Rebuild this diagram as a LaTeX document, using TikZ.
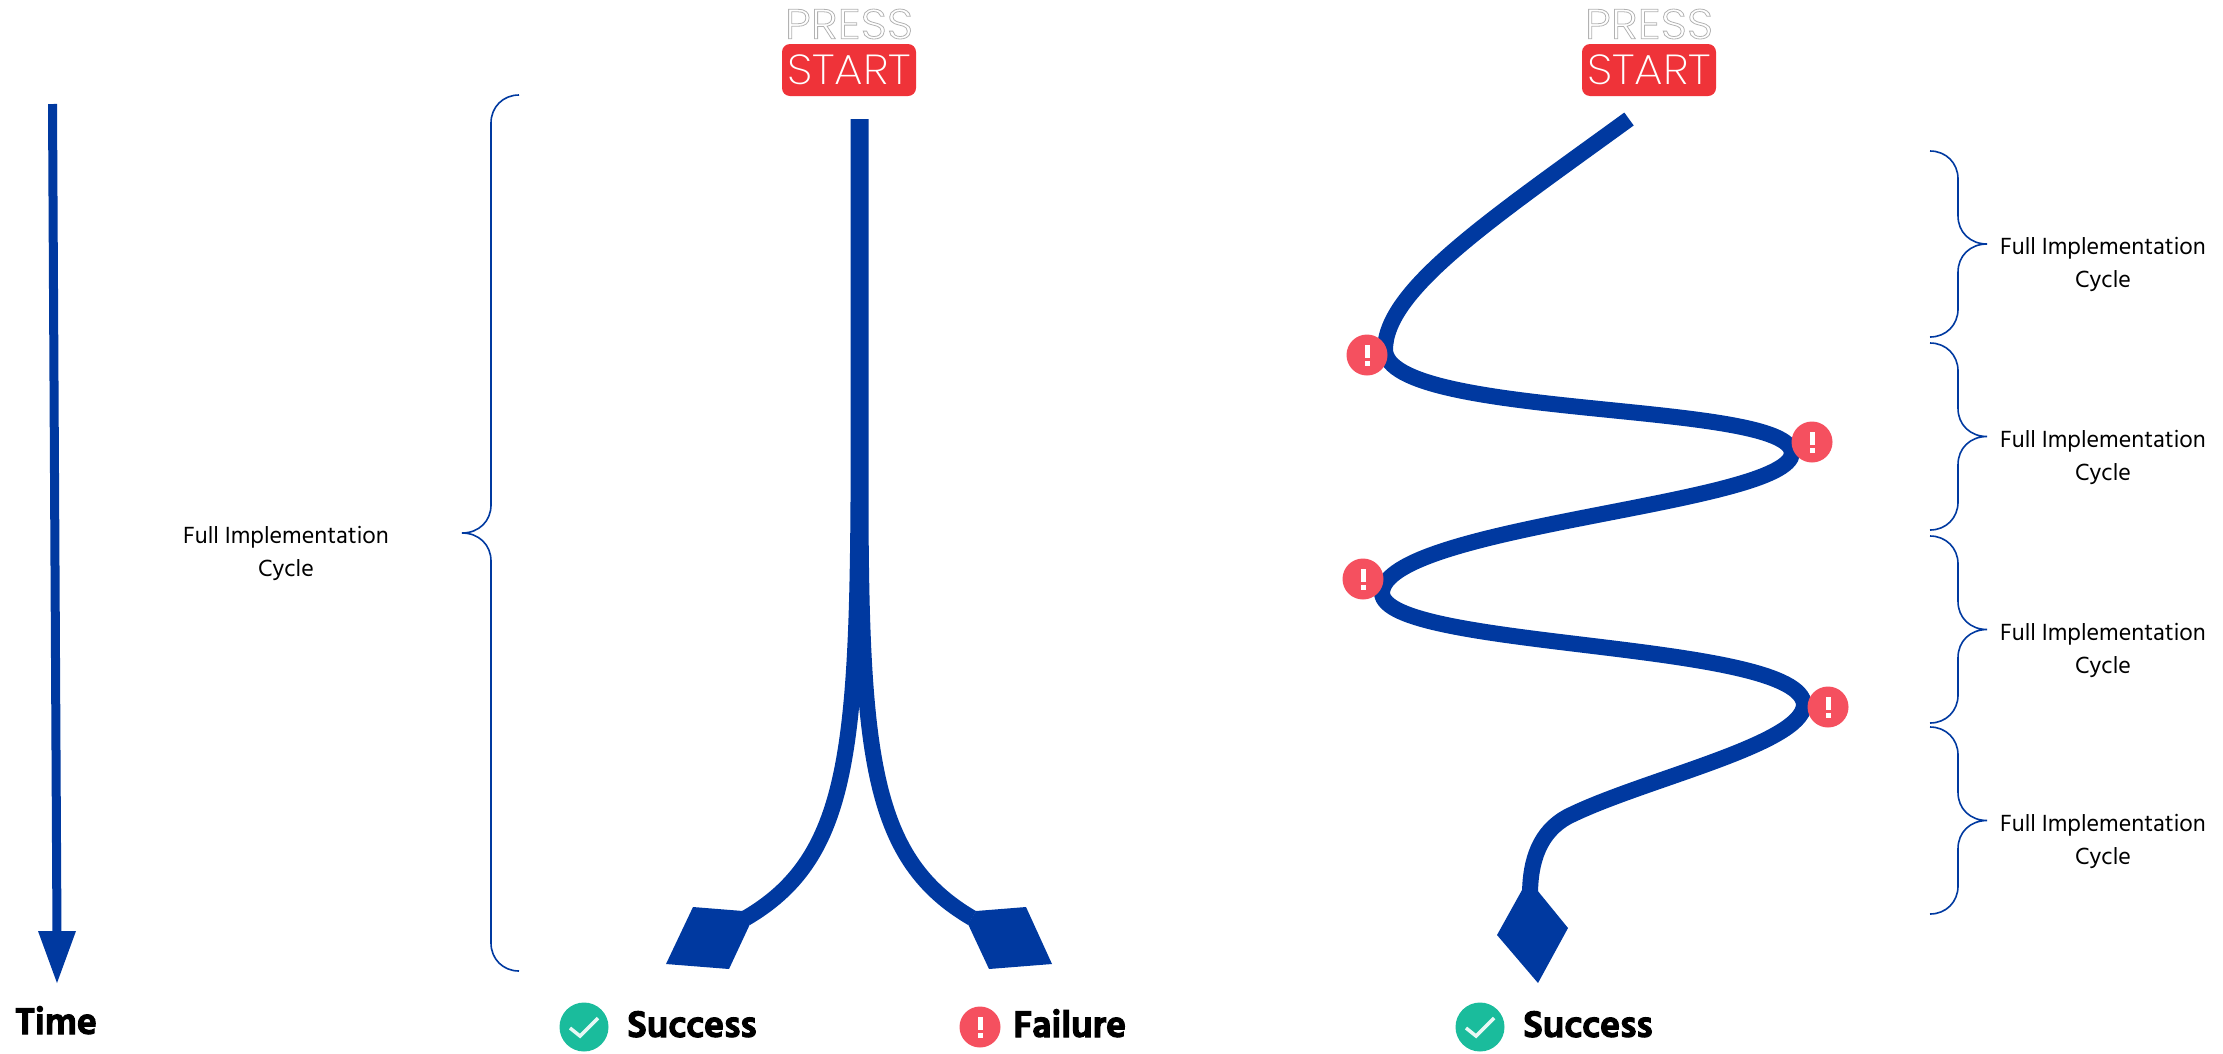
\documentclass[tikz,border=0pt]{standalone}
\usepackage{fontspec}
\usetikzlibrary{calc}
\setmainfont{Hind Madurai}
\newfontfamily\pressfont[FakeStretch=1.09]{Poppins Light}
\newfontfamily\startfont[FakeStretch=1.08]{Poppins ExtraLight}
\definecolor{flow}{HTML}{0039A0}
\definecolor{alert}{HTML}{F5505F}
\definecolor{okc}{HTML}{1ABC9C}
\definecolor{startred}{HTML}{EF3339}
\tikzset{
 flowline/.style={draw=flow,line width=16pt},
 headfill/.style={fill=flow,draw=none},
 bracepath/.style={draw=flow,line width=1.6pt},
 captxt/.style={font=\fontsize{24}{33}\selectfont,align=center,text=black},
 bigtxt/.style={font=\fontsize{38}{38}\bfseries\selectfont,text=black,anchor=base west,inner sep=0pt},
 badge/.style={circle,fill=alert,minimum size=41pt,inner sep=0pt},
 okbadge/.style={circle,fill=okc,minimum size=49pt,inner sep=0pt},
 pressbox/.style={fill=startred,rounded corners=8pt,minimum width=134pt,minimum height=52pt,inner sep=0pt,text=white,font=\startfont\fontsize{42}{42}\selectfont},
 presstxt/.style={text=black!30,font=\pressfont\fontsize{42}{42}\selectfont,inner sep=0pt},
}
\newcommand{\heavy}[1]{\special{pdf:code 2 Tr 1.1 w}#1\special{pdf:code 0 Tr}}
\newcommand{\outlined}[1]{\special{pdf:code 1 Tr 0.8 w}#1\special{pdf:code 0 Tr}}
\newcommand{\bangmark}[1]{\fill[white] ($(#1)+(-2.5,-10)$) rectangle ($(#1)+(2.5,3)$); \fill[white] ($(#1)+(-2.5,6)$) rectangle ($(#1)+(2.5,11)$);}
\newcommand{\tickat}[1]{\draw[white!90!okc,line width=3.5pt] ($(#1)+(-14,1)$) -- ($(#1)+(-4,9)$) -- ($(#1)+(14,-9)$);}
\newcommand{\bracketat}[4]{%
 \pgfmathsetmacro\ymid{(#2+#3)/2}
 \draw[bracepath] (#1,#2) .. controls (#1+#4*16,#2) and (#1+#4*28,#2+12) .. (#1+#4*28,#2+28)
  -- (#1+#4*28,\ymid-28) .. controls (#1+#4*28,\ymid-12) and (#1+#4*40,\ymid) .. (#1+#4*57,\ymid)
  .. controls (#1+#4*40,\ymid) and (#1+#4*28,\ymid+12) .. (#1+#4*28,\ymid+28)
  -- (#1+#4*28,#3-28) .. controls (#1+#4*28,#3-12) and (#1+#4*16,#3) .. (#1,#3);
}
\begin{document}
\begin{tikzpicture}[x=1pt,y=-1pt]
\useasboundingbox (0,0) rectangle (2223,1053);
% Time
\coordinate (t1) at (52.5,104); \coordinate (t2) at (57,935);
\draw[flowline,line width=9pt] (t1) -- (t2);
\fill[headfill] (38,931) -- (76,931) -- (57,983) -- cycle;
\node[bigtxt] (time) at (15,1034) {\heavy{Time}};
% big brace
\bracketat{519}{95}{971}{-1}
\node[captxt] (c0) at (286,553) {Full Implementation\\Cycle};
% press start
\node[pressbox] (s1) at (849,70) {START};
\node[presstxt] (p1) at (849,24) {\outlined{PRESS}};
\node[pressbox] (s2) at (1649,70) {START};
\node[presstxt] (p2) at (1649,24) {\outlined{PRESS}};
% stem
\draw[flowline] (858.5,119) -- (858.5,500) .. controls (857,760) and (845,860) .. (746,918);
\draw[flowline] (860.5,119) -- (860.5,500) .. controls (861,760) and (873,860) .. (972,918);
\fill[headfill] (693,907) -- (743,911) -- (750,924) -- (729,969) -- (666,964) -- cycle;
\fill[headfill] (1026,907) -- (976,911) -- (968,924) -- (989,969) -- (1052,964) -- cycle;
% wiggle
\draw[flowline] (1629,119) .. controls (1490,220) and (1385,290) .. (1385,350)
  .. controls (1388,420) and (1790,400) .. (1792,453)
  .. controls (1790,505) and (1384,525) .. (1382,593)
  .. controls (1384,650) and (1802,640) .. (1804,705)
  .. controls (1802,745) and (1640,780) .. (1567,817)
  .. controls (1540,832) and (1530,860) .. (1530,895);
\fill[headfill] (1522,890) -- (1537,890) -- (1568,928) -- (1538,983) -- (1497,935) -- cycle;
% badges
\foreach \n/\x/\y in {b1/1367/355,b2/1812/442,b3/1363/579,b4/1828/707,b5/980/1027}{
 \node[badge] (\n) at (\x,\y) {}; \bangmark{\n}
}
\foreach \n/\x/\y in {k1/584/1027,k2/1480/1027}{
 \node[okbadge] (\n) at (\x,\y) {}; \tickat{\n}
}
\node[bigtxt] (l1) at (627,1037) {\heavy{Success}};
\node[bigtxt] (l2) at (1013,1037) {\heavy{Failure}};
\node[bigtxt] (l3) at (1523,1037) {\heavy{Success}};
% small braces
\foreach \n/\a/\b in {a/151/337,d/343/530,e/536/723,f/727/914}{
 \bracketat{1930}{\a}{\b}{1}
 \pgfmathsetmacro\ym{(\a+\b)/2}
 \node[captxt] (c\n) at (2103,\ym+20.5) {Full Implementation\\Cycle};
}
\end{tikzpicture}
\end{document}
